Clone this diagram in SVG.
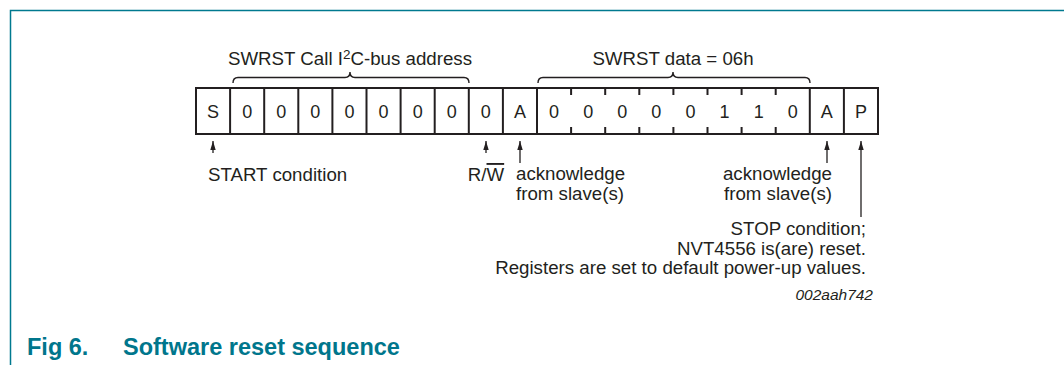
<svg xmlns="http://www.w3.org/2000/svg" width="1064" height="365" viewBox="0 0 1064 365">
<style>
text{font-family:"Liberation Sans",Arial,sans-serif;fill:#231f20}
.lbl{font-size:18.7px}
.cell{font-size:18px;text-anchor:middle}
.box{fill:none;stroke:#231f20;stroke-width:2}
.div{stroke:#231f20;stroke-width:2}
.tick{stroke:#231f20;stroke-width:2}
.brace{fill:none;stroke:#231f20;stroke-width:1.4}
.arr{stroke:#231f20;stroke-width:1.3;marker-end:url(#ah)}
.cap{font-size:23.5px;font-weight:bold;fill:#00768c}
</style>
<defs>
<marker id="ah" viewBox="0 0 10 6" refX="10" refY="3" markerUnits="userSpaceOnUse" markerWidth="9" markerHeight="5.4" orient="auto">
<path d="M0,0 L10,3 L0,6 z" fill="#231f20"/>
</marker>
</defs>
<g id="frame">
<path d="M10.5,365 L10.5,10.5 L1064,10.5" fill="none" stroke="#00798f" stroke-width="1.5"/>
</g>
<g id="sequence">
<rect class="box" x="196" y="88" width="682" height="46"/>
<g id="dividers">
<line class="div" x1="230.1" y1="88" x2="230.1" y2="134"/>
<line class="div" x1="264.2" y1="88" x2="264.2" y2="134"/>
<line class="div" x1="298.3" y1="88" x2="298.3" y2="134"/>
<line class="div" x1="332.4" y1="88" x2="332.4" y2="134"/>
<line class="div" x1="366.5" y1="88" x2="366.5" y2="134"/>
<line class="div" x1="400.6" y1="88" x2="400.6" y2="134"/>
<line class="div" x1="434.7" y1="88" x2="434.7" y2="134"/>
<line class="div" x1="468.8" y1="88" x2="468.8" y2="134"/>
<line class="div" x1="502.9" y1="88" x2="502.9" y2="134"/>
<line class="div" x1="537" y1="88" x2="537" y2="134"/>
<line class="div" x1="809.8" y1="88" x2="809.8" y2="134"/>
<line class="div" x1="843.9" y1="88" x2="843.9" y2="134"/>
</g>
<g id="ticks">
<path class="tick" d="M571.1,88v7M605.2,88v7M639.3,88v7M673.4,88v7M707.5,88v7M741.6,88v7M775.7,88v7M571.1,134v-7M605.2,134v-7M639.3,134v-7M673.4,134v-7M707.5,134v-7M741.6,134v-7M775.7,134v-7"/>
</g>
<g id="bits">
<text class="cell" x="213.05" y="117.5">S</text>
<text class="cell" x="247.15" y="117.5">0</text>
<text class="cell" x="281.25" y="117.5">0</text>
<text class="cell" x="315.35" y="117.5">0</text>
<text class="cell" x="349.45" y="117.5">0</text>
<text class="cell" x="383.55" y="117.5">0</text>
<text class="cell" x="417.65" y="117.5">0</text>
<text class="cell" x="451.75" y="117.5">0</text>
<text class="cell" x="485.85" y="117.5">0</text>
<text class="cell" x="519.95" y="117.5">A</text>
<text class="cell" x="554.05" y="117.5">0</text>
<text class="cell" x="588.15" y="117.5">0</text>
<text class="cell" x="622.25" y="117.5">0</text>
<text class="cell" x="656.35" y="117.5">0</text>
<text class="cell" x="690.45" y="117.5">0</text>
<text class="cell" x="724.55" y="117.5">1</text>
<text class="cell" x="758.65" y="117.5">1</text>
<text class="cell" x="792.75" y="117.5">0</text>
<text class="cell" x="826.85" y="117.5">A</text>
<text class="cell" x="860.95" y="117.5">P</text>
</g>
</g>
<g id="address-label">
<path class="brace" d="M233,83 Q233,77.5 238,77.5 L345,77.5 Q350,77.5 350,72 Q350,77.5 355,77.5 L464,77.5 Q469,77.5 469,83"/>
<text class="lbl" x="350" y="65" text-anchor="middle">SWRST Call I<tspan font-size="13.5" dy="-6">2</tspan><tspan dy="6">C-bus address</tspan></text>
</g>
<g id="data-label">
<path class="brace" d="M538,83 Q538,77.5 543,77.5 L668,77.5 Q673,77.5 673,72 Q673,77.5 678,77.5 L805,77.5 Q810,77.5 810,83"/>
<text class="lbl" x="673" y="65" text-anchor="middle">SWRST data = 06h</text>
</g>
<g id="connectors">
<line class="arr" x1="213" y1="153" x2="213" y2="141"/>
<line class="arr" x1="486" y1="153" x2="486" y2="141"/>
<line class="arr" x1="520" y1="163" x2="520" y2="141"/>
<line class="arr" x1="827" y1="163" x2="827" y2="141"/>
<line class="arr" x1="861" y1="217" x2="861" y2="141"/>
</g>
<g id="start-label">
<text class="lbl" x="208" y="181">START condition</text>
</g>
<g id="rw-label">
<text class="lbl" x="486" y="181" text-anchor="middle">R/<tspan text-decoration="overline">W</tspan></text>
</g>
<g id="ack1-label">
<text class="lbl" x="516" y="180">acknowledge</text>
<text class="lbl" x="516" y="200">from slave(s)</text>
</g>
<g id="ack2-label">
<text class="lbl" x="832" y="180" text-anchor="end">acknowledge</text>
<text class="lbl" x="832" y="200" text-anchor="end">from slave(s)</text>
</g>
<g id="stop-label">
<text class="lbl" x="866" y="235" text-anchor="end">STOP condition;</text>
<text class="lbl" x="866" y="255" text-anchor="end">NVT4556 is(are) reset.</text>
<text class="lbl" x="866" y="274" text-anchor="end">Registers are set to default power-up values.</text>
</g>
<text x="873" y="300" text-anchor="end" font-size="15.5" font-style="italic">002aah742</text>
<g id="caption">
<text class="cap" x="27" y="355">Fig 6.</text>
<text class="cap" x="123" y="355">Software reset sequence</text>
</g>
</svg>
